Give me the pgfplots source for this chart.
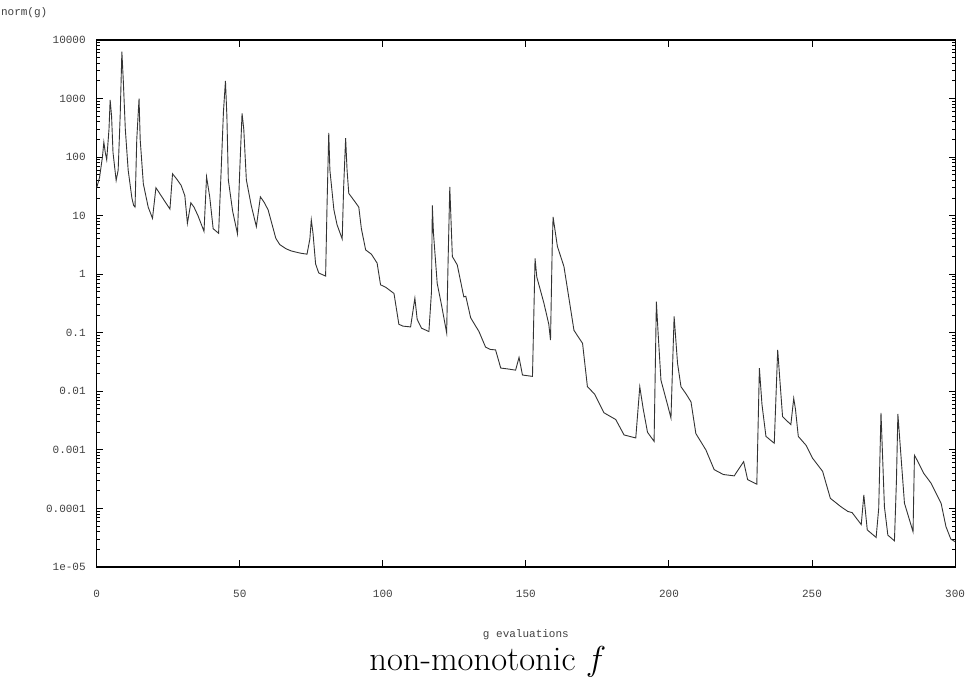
\documentclass[border=0pt]{standalone}
\usepackage{fontspec}
\usepackage{pgfplots}
\pgfplotsset{compat=1.18}
\newfontfamily\monofont{Liberation Mono}

\pgfplotstableread{
x y
0 30
1 45
2 100
2.5 180
3 120
3.5 90
4.3 300
4.7 950
5.2 500
5.7 120
6.8 40
7.5 60
8.2 500
8.8 6300
9.3 2000
10 300
11 60
12.3 20
12.9 15
13.4 14
14 200
14.8 1000
15.2 200
16.3 35
18 14
19.5 9
20.7 30
22 24
24 17
25.6 13
26.5 52
28 42
29.5 33
30.8 22
31.7 7.4
32.9 16.6
34 14
35.4 10
37.5 5.4
38.4 46
39.5 21
40.7 6
42.6 5
43.5 60
44.3 600
45 2000
45.5 500
46 41
47.5 12
49.2 4.9
50 60
50.8 560
51.4 300
52.3 41
54 15
55.8 6.5
57.2 21
58.5 17
59.9 12.6
61 8
62.6 4.1
64 3.2
66.3 2.7
68 2.5
71 2.3
73.5 2.2
74.5 4
75 8.5
75.6 5
76.5 1.5
77.6 1.05
80 0.93
80.5 15
81.1 260
81.5 60
82.9 12.6
84 7
85.8 4
86.3 30
87 210
87.5 60
88.1 24
90 18
91.6 14
92.5 6
94 2.6
96 2.2
98 1.55
99.2 0.66
101 0.6
103.9 0.47
105.6 0.14
107 0.13
109.7 0.126
111.2 0.39
112 0.17
113.5 0.12
116.1 0.105
117 0.5
117.3 15
117.7 5
119 0.7
120.5 0.3
122.3 0.1
122.8 1.6
123.4 31
124.3 2
126 1.45
128.3 0.41
129 0.42
130.7 0.18
133.6 0.105
135.9 0.057
137.5 0.052
139.4 0.051
141.2 0.025
144 0.024
146.4 0.023
147.6 0.038
148.8 0.019
152.3 0.018
153.2 1.86
153.8 0.9
156.3 0.32
158 0.14
158.6 0.075
159.2 3
159.5 9.5
161 3
163.3 1.35
165 0.4
166.8 0.11
169.8 0.066
171.5 0.012
174 0.009
177.3 0.0043
181.4 0.0033
184.3 0.0018
188.4 0.0016
189.8 0.012
191 0.005
192.5 0.002
194.8 0.0014
195.6 0.34
196.2 0.1
197.2 0.0155
199.5 0.0059
200.7 0.0035
201.8 0.19
203 0.03
204.2 0.012
206 0.009
207.7 0.0066
209.4 0.0019
212.9 0.001
215.8 0.00046
219 0.00038
222.8 0.00036
226.1 0.00063
227.5 0.00031
230.7 0.00026
231.6 0.025
232.5 0.006
233.9 0.0017
236.8 0.0013
238 0.051
238.6 0.02
239.7 0.0037
242.6 0.0027
243.6 0.0076
244.2 0.005
245.2 0.0017
247.9 0.0012
250.2 0.00072
253.7 0.00043
256.4 0.000149
260.1 0.000107
262.5 0.000089
264 0.000085
267.2 0.000053
268.1 0.00017
269.3 0.000043
272.4 0.000032
273.3 0.0001
274.1 0.0043
275.3 0.000107
276.5 0.000035
278.8 0.000028
279.5 0.0003
280 0.0041
282.3 0.000123
285.3 0.00004
285.8 0.00081
287 0.00063
289 0.0004
291.6 0.00027
295.1 0.000123
296.8 0.000049
298.5 0.00003
300 0.000027
}\normg

\begin{document}
\begin{tikzpicture}
\begin{axis}[
    scale only axis,
    width=429.2pt, height=263.5pt,
    at={(0,0)}, anchor=south west,
    xmin=0, xmax=300,
    ymode=log, ymin=1e-5, ymax=1e4,
    axis line style={line width=0.6pt},
    tick style={black, line width=0.5pt},
    major tick length=3.3pt,
    minor tick length=1.6pt,
    xtick={0,50,100,150,200,250,300},
    xticklabels={0,50,100,150,200,250,300},
    ytick={1e-5,1e-4,1e-3,1e-2,1e-1,1,10,100,1000,10000},
    yticklabels={1e-05,0.0001,0.001,0.01,0.1,1,10,100,1000,10000},
    minor ytick={2e-5,3e-5,4e-5,5e-5,6e-5,7e-5,8e-5,9e-5,
                 2e-4,3e-4,4e-4,5e-4,6e-4,7e-4,8e-4,9e-4,
                 2e-3,3e-3,4e-3,5e-3,6e-3,7e-3,8e-3,9e-3,
                 2e-2,3e-2,4e-2,5e-2,6e-2,7e-2,8e-2,9e-2,
                 0.2,0.3,0.4,0.5,0.6,0.7,0.8,0.9,
                 2,3,4,5,6,7,8,9,
                 20,30,40,50,60,70,80,90,
                 200,300,400,500,600,700,800,900,
                 2000,3000,4000,5000,6000,7000,8000,9000},
    tick label style={font=\monofont\fontsize{5.5}{6}\selectfont, text=black!75, inner sep=0pt},
    xticklabel style={anchor=base, yshift=-15pt},
    yticklabel style={anchor=east, xshift=-5.3pt},
    clip=true,
]
\addplot[black!80, line width=0.45pt] table[x=x, y=y] {\normg};
\end{axis}
\node[anchor=west, inner sep=0pt, font=\monofont\fontsize{5.5}{6}\selectfont, text=black!75] at (-48pt,277pt) {norm(g)};
\node[anchor=base, inner sep=0pt, font=\monofont\fontsize{5.5}{6}\selectfont, text=black!75] at (214.6pt,-35pt) {g evaluations};
\node[anchor=base, inner sep=0pt, font=\fontsize{17.28}{20}\selectfont] at (195.6pt,-51.5pt) {non-monotonic $f$};
\pgfresetboundingbox
\path (-48.35pt,-57.5pt) rectangle (436.65pt,283.5pt);
\end{tikzpicture}
\end{document}
